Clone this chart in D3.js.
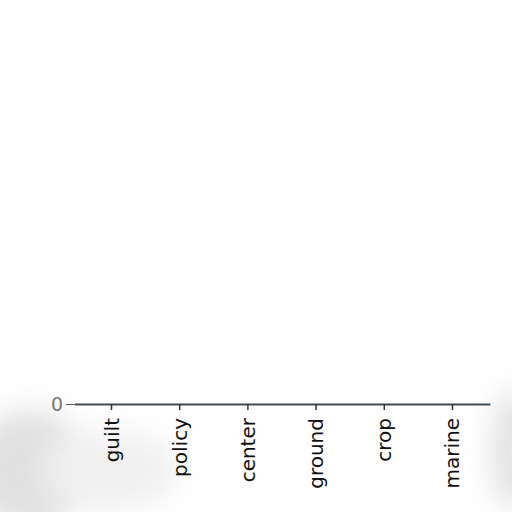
<!DOCTYPE html>
<html><head><meta charset="utf-8">
<script src="https://cdn.jsdelivr.net/npm/d3@7"></script>
<style>
html,body{margin:0;padding:0;background:#fff;}
svg{display:block;}
</style></head>
<body>
<script>
const categories = ["guilt","policy","center","ground","crop","marine"];
const values = [0,0,0,0,0,0];
const yTicks = [0];

const W = 512, H = 512;
const margin = {top: 20, right: 22, bottom: 108, left: 74};
const svg = d3.select("body").append("svg").attr("width", W).attr("height", H);

// soft gray smudge background near the bottom
const defs = svg.append("defs");
defs.append("filter").attr("id","blur").attr("x","-50%").attr("y","-50%").attr("width","200%").attr("height","200%")
  .append("feGaussianBlur").attr("stdDeviation", 14);
const smudge = svg.append("g").attr("filter","url(#blur)").attr("opacity",0.55);
smudge.append("ellipse").attr("cx",30).attr("cy",470).attr("rx",60).attr("ry",60).attr("fill","#c8c8c8");
smudge.append("ellipse").attr("cx",110).attr("cy",470).attr("rx",70).attr("ry",40).attr("fill","#e4e4e4");
smudge.append("ellipse").attr("cx",512).attr("cy",450).attr("rx",20).attr("ry",60).attr("fill","#c8c8c8");

const x = d3.scaleBand().domain(categories).range([margin.left, W - margin.right]).paddingInner(0.1).paddingOuter(0.1);
const y = d3.scaleLinear().domain([0, Math.max(1, d3.max(values))]).range([H - margin.bottom, margin.top]);

// bars (all zero height)
svg.append("g").selectAll("rect").data(categories).join("rect")
  .attr("x", d => x(d)).attr("width", x.bandwidth())
  .attr("y", (d,i) => y(values[i])).attr("height", (d,i) => y(0) - y(values[i]))
  .attr("fill", "steelblue");

// x axis
const xg = svg.append("g").attr("transform", `translate(0,${y(0)})`)
  .call(d3.axisBottom(x).tickSize(6).tickSizeOuter(0));
xg.select(".domain").attr("stroke", "#3e4a57").attr("stroke-width", 2);
xg.selectAll(".tick line").attr("stroke", "#333").attr("stroke-width", 1.5);
xg.selectAll(".tick text")
  .attr("font-family", "DejaVu Sans").attr("font-size", 20).attr("fill", "#111")
  .attr("transform", "rotate(-90)")
  .attr("text-anchor", "end").attr("x", -14).attr("y", 0).attr("dy", "0.35em");

// y axis (only zero tick, no domain line)
const yg = svg.append("g").attr("transform", `translate(${margin.left},0)`)
  .call(d3.axisLeft(y).tickValues(yTicks).tickFormat(d3.format("d")).tickSize(8));
yg.select(".domain").remove();
yg.selectAll(".tick line").attr("stroke", "#555");
yg.selectAll(".tick text").attr("font-family", "DejaVu Sans").attr("font-size", 19).attr("fill", "#777").attr("x", -11);
</script>
</body></html>
